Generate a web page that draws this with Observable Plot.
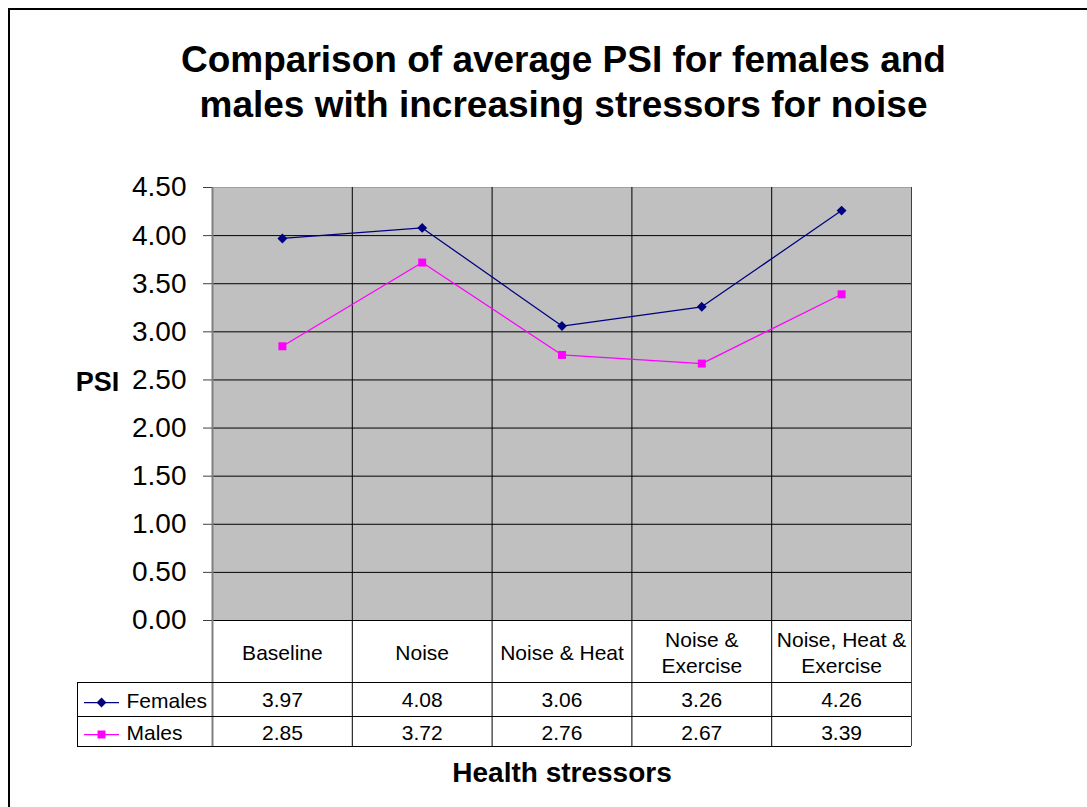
<!DOCTYPE html>
<html><head><meta charset="utf-8">
<script src="https://cdn.jsdelivr.net/npm/d3@7"></script>
<script src="https://cdn.jsdelivr.net/npm/@observablehq/plot@0.6"></script>
<style>
body{margin:0;background:#fff;font-family:Arial,"Liberation Sans",sans-serif;}
#wrap{position:relative;width:1087px;height:807px;overflow:hidden;background:#fff;}
#border{position:absolute;left:8px;top:8px;width:1100px;height:820px;border:2px solid #000;box-sizing:border-box;}
#chart{position:absolute;left:0;top:0;}
#title{position:absolute;left:0;top:37px;width:1127px;text-align:center;font-weight:bold;font-size:37px;line-height:45px;color:#000;}
</style></head>
<body><div id="wrap"><div id="border"></div><div id="chart"></div><div id="title">Comparison of average PSI for females and<br>males with increasing stressors for noise</div></div>
<script>
const categories = ["Baseline", "Noise", "Noise & Heat", "Noise &\nExercise", "Noise, Heat &\nExercise"];
const females = [3.97, 4.08, 3.06, 3.26, 4.26];
const males = [2.85, 3.72, 2.76, 2.67, 3.39];
const seriesNames = ["Females", "Males"];
const yTicks = [0, 0.5, 1, 1.5, 2, 2.5, 3, 3.5, 4, 4.5];
const yTitle = "PSI";
const xTitle = "Health stressors";

const navy = "#000080", magenta = "#FF00FF";
const fRows = categories.map((c, i) => ({cat: c, xi: i + 0.5, value: females[i]}));
const mRows = categories.map((c, i) => ({cat: c, xi: i + 0.5, value: males[i]}));
const boundaries = d3.range(categories.length + 1);
const fmt = d3.format(".2f");

const chart = Plot.plot({
  width: 1087, height: 807,
  marginTop: 187, marginBottom: 187, marginLeft: 212, marginRight: 176,
  style: {fontFamily: "Arial, 'Liberation Sans', sans-serif", background: "transparent", color: "#000", overflow: "visible"},
  x: {domain: [0, categories.length], axis: null},
  y: {domain: [0, 4.5], axis: null},
  marks: [
    Plot.frame({fill: "#C0C0C0", stroke: null}),
    Plot.ruleY(yTicks.filter(t => t < 4.5), {stroke: "#000", strokeWidth: 1}),
    Plot.ruleY([4.5], {stroke: "#a0a0a0", strokeWidth: 1}),
    Plot.ruleX(boundaries.slice(1, -1), {stroke: "#000", insetBottom: -126}),
    Plot.ruleX(boundaries.slice(-1), {stroke: "#404040", insetBottom: -126}),
    Plot.ruleX([0], {stroke: "#808080", strokeWidth: 2, insetBottom: -126}),
    Plot.axisY({ticks: yTicks, tickFormat: fmt, fontSize: 28, tickSize: 9, tickPadding: 17, label: null, stroke: "#404040"}),
    Plot.text([yTitle], {text: d => d, frameAnchor: "left", dx: -115, dy: -22, fontSize: 27, fontWeight: "bold", textAnchor: "middle", lineAnchor: "middle"}),
    // data table
    Plot.ruleY([0], {dy: 62, insetLeft: -135, stroke: "#000"}),
    Plot.ruleY([0], {dy: 96, insetLeft: -135, stroke: "#000"}),
    Plot.ruleY([0], {dy: 126, insetLeft: -135, stroke: "#000"}),
    Plot.ruleX([0], {dx: -135, insetTop: 495, insetBottom: -126, stroke: "#000"}),
    Plot.text(categories, {x: (d, i) => i + 0.5, text: d => d, frameAnchor: "bottom", lineAnchor: "middle", dy: 31, fontSize: 21, lineHeight: 1.24}),
    Plot.text(fRows, {x: "xi", text: d => fmt(d.value), frameAnchor: "bottom", lineAnchor: "middle", dy: 80, fontSize: 21}),
    Plot.text(mRows, {x: "xi", text: d => fmt(d.value), frameAnchor: "bottom", lineAnchor: "middle", dy: 113, fontSize: 21}),
    // legend keys
    Plot.ruleY([0], {dy: 82, insetLeft: -128, insetRight: 792, stroke: navy, strokeWidth: 1.25}),
    Plot.ruleY([0], {dy: 114, insetLeft: -128, insetRight: 792, stroke: magenta, strokeWidth: 1.25}),
    Plot.dot([seriesNames[0]], {frameAnchor: "bottom-left", dx: -111, dy: 82, symbol: "diamond2", fill: navy, stroke: navy, r: 3.5}),
    Plot.dot([seriesNames[1]], {frameAnchor: "bottom-left", dx: -111, dy: 114, symbol: "square", fill: magenta, stroke: null, r: 4.5}),
    Plot.text([seriesNames[0]], {text: d => d, frameAnchor: "bottom-left", lineAnchor: "middle", dx: -86, dy: 81, textAnchor: "start", fontSize: 21}),
    Plot.text([seriesNames[1]], {text: d => d, frameAnchor: "bottom-left", lineAnchor: "middle", dx: -86, dy: 113, textAnchor: "start", fontSize: 21}),
    // series
    Plot.line(fRows, {x: "xi", y: "value", stroke: navy, strokeWidth: 1.25}),
    Plot.dot(fRows, {x: "xi", y: "value", symbol: "diamond2", fill: navy, stroke: navy, r: 3.5}),
    Plot.line(mRows, {x: "xi", y: "value", stroke: magenta, strokeWidth: 1.25}),
    Plot.dot(mRows, {x: "xi", y: "value", symbol: "square", fill: magenta, stroke: null, r: 4.5}),
    Plot.text([xTitle], {text: d => d, frameAnchor: "bottom", lineAnchor: "middle", dy: 153, fontSize: 28, fontWeight: "bold"})
  ]
});
document.getElementById("chart").appendChild(chart);
</script>
</body></html>
